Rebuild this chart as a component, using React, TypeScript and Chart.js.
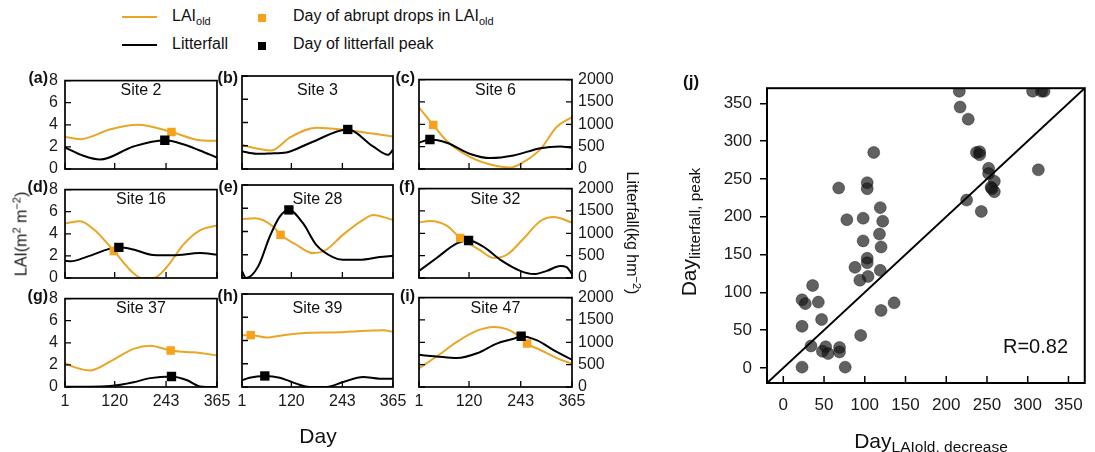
import React, { useEffect, useRef } from 'react';
import { Chart, registerables } from 'chart.js';

Chart.register(...registerables);
Chart.defaults.font.family = "'Liberation Sans', Arial, sans-serif";
Chart.defaults.color = '#1a1a1a';

type P = [number, number];

// ---------- tick labels ----------
const DAY_TICKS = [1, 120, 243, 365];
const LAI_TICKS = [0, 2, 4, 6, 8];
const LITTER_TICKS = [0, 500, 1000, 1500, 2000];
const SCATTER_TICKS = [0, 50, 100, 150, 200, 250, 300, 350];

const SITE_NAMES = ['Site 2', 'Site 3', 'Site 6', 'Site 16', 'Site 28', 'Site 32', 'Site 37', 'Site 39', 'Site 47'];
const PANEL_TAGS = ['(a)', '(b)', '(c)', '(d)', '(e)', '(f)', '(g)', '(h)', '(i)'];

// ---------- LAI_old series [day, LAI] ----------
const LAI_SITE2: P[] = [[1, 2.9], [37, 2.7], [110, 3.6], [176, 4.0], [256, 3.35], [324, 2.6], [365, 2.55]];
const LAI_SITE3: P[] = [[1, 2.1], [19, 1.9], [72, 1.6], [116, 2.7], [180, 3.55], [252, 3.35], [316, 3.05], [365, 2.8]];
const LAI_SITE6: P[] = [[1, 5.5], [35, 3.93], [67, 2.5], [123, 1.06], [186, 0.26], [218, 0.14], [250, 0.63], [290, 1.78], [329, 3.78], [365, 4.64]];
const LAI_SITE16: P[] = [[1, 4.94], [37, 5.14], [69, 4.43], [118, 2.45], [165, 0.43], [185, 0], [213, 0], [245, 1.0], [284, 3.0], [324, 4.3], [365, 4.75]];
const LAI_SITE28: P[] = [[1, 5.06], [32, 5.14], [76, 4.43], [94, 3.71], [132, 2.86], [172, 2.14], [204, 2.43], [244, 3.71], [293, 5.0], [317, 5.43], [365, 5.0]];
const LAI_SITE32: P[] = [[1, 4.97], [27, 5.1], [67, 4.68], [99, 3.58], [146, 2.5], [178, 1.8], [210, 2.08], [250, 3.53], [290, 5.1], [321, 5.46], [365, 4.97]];
const LAI_SITE37: P[] = [[1, 2.16], [29, 1.73], [61, 1.5], [109, 2.3], [165, 3.45], [205, 3.74], [254, 3.31], [292, 3.17], [324, 3.08], [365, 2.85]];
const LAI_SITE39: P[] = [[1, 4.46], [22, 4.46], [60, 4.26], [100, 4.46], [164, 4.66], [220, 4.69], [301, 4.83], [341, 4.89], [365, 4.75]];
const LAI_SITE47: P[] = [[1, 1.67], [43, 2.73], [91, 4.03], [139, 5.04], [178, 5.38], [210, 5.18], [242, 4.46], [258, 3.88], [290, 3.31], [329, 2.59], [365, 2.07]];

// ---------- Litterfall series [day, kg hm-2] ----------
const LITTER_SITE2: P[] = [[1, 490], [45, 300], [85, 213], [165, 510], [240, 650], [284, 560], [324, 418], [365, 260]];
const LITTER_SITE3: P[] = [[1, 380], [35, 327], [70, 335], [108, 356], [165, 560], [256, 850], [317, 487], [353, 305], [365, 414]];
const LITTER_SITE6: P[] = [[1, 588], [27, 660], [67, 588], [123, 337], [170, 244], [226, 301], [290, 466], [337, 502], [365, 480]];
const LITTER_SITE16: P[] = [[1, 393], [15, 378], [53, 478], [130, 693], [165, 643], [212, 521], [260, 514], [324, 565], [365, 530]];
const LITTER_SITE28: P[] = [[1, 143], [11, 0], [40, 250], [68, 893], [92, 1321], [114, 1464], [148, 1178], [180, 714], [220, 450], [244, 393], [285, 393], [333, 450], [365, 478]];
const LITTER_SITE32: P[] = [[1, 159], [43, 448], [91, 773], [119, 838], [154, 700], [194, 411], [242, 159], [274, 87], [305, 159], [337, 267], [352, 245], [365, 90]];
const LITTER_SITE37: P[] = [[1, 8], [60, 5], [109, 20], [165, 108], [205, 201], [256, 237], [292, 158], [324, 14], [365, 0]];
const LITTER_SITE39: P[] = [[1, 144], [19, 201], [56, 237], [92, 201], [132, 72], [164, 0], [205, 0], [245, 108], [293, 216], [333, 180], [365, 180]];
const LITTER_SITE47: P[] = [[1, 719], [43, 683], [91, 647], [139, 755], [186, 971], [226, 1079], [244, 1136], [282, 1043], [321, 827], [365, 611]];

const LAI_SERIES = [LAI_SITE2, LAI_SITE3, LAI_SITE6, LAI_SITE16, LAI_SITE28, LAI_SITE32, LAI_SITE37, LAI_SITE39, LAI_SITE47];
const LITTER_SERIES = [LITTER_SITE2, LITTER_SITE3, LITTER_SITE6, LITTER_SITE16, LITTER_SITE28, LITTER_SITE32, LITTER_SITE37, LITTER_SITE39, LITTER_SITE47];

// ---------- markers ----------
const LAI_DROP_DAYS: P[] = [[256, 3.35], [256, 3.4], [35, 3.93], [118, 2.45], [94, 3.71], [99, 3.58], [254, 3.31], [22, 4.46], [258, 3.9]];
const LITTER_PEAK_DAYS: P[] = [[240, 650], [256, 850], [27, 660], [130, 693], [114, 1464], [119, 838], [256, 237], [56, 237], [244, 1136]];

// ---------- panel (j) scatter ----------
const SCATTER_X = [216, 217, 227, 306, 317, 320, 313, 111, 237, 241, 241, 252, 252, 259, 255, 259, 256, 225, 243, 68, 103, 103, 78, 98, 119, 122, 118, 98, 120, 103, 103, 88, 104, 94, 119, 120, 136, 95, 23, 27, 36, 43, 47, 23, 34, 52, 48, 55, 69, 69, 23, 76];
const SCATTER_Y = [366, 345, 329, 366, 366, 366, 262, 285, 285, 286, 282, 264, 257, 247, 239, 233, 237, 222, 207, 238, 245, 237, 196, 198, 212, 194, 177, 168, 160, 145, 139, 133, 121, 116, 129, 76, 86, 43, 90, 85, 109, 87, 64, 55, 29, 28, 22, 19, 27, 21, 1, 1];
const ONE_TO_ONE = [-20, 370];
const R_TEXT = 'R=0.82';

// ---------- styling / layout ----------
const ORANGE_LINE = '#E9A626';
const ORANGE_MARK = '#F6A21B';
const COL_X = [65, 242, 419];
const COL_W = [152, 151, 153];
const ROW_Y = [76, 185, 294];
const ROW_H = 93;
const PADL = 40, PADR = 52, PADT = 12, PADB = 30;
const FONT = "'Liberation Sans', Arial, sans-serif";

const framePlugin = {
  id: 'frame',
  afterDatasetsDraw(chart: any, _args: any, opts: any) {
    const { ctx, chartArea: a, scales } = chart;
    const L = opts.tickLen ?? 6;
    ctx.save();
    ctx.strokeStyle = '#000';
    ctx.lineWidth = opts.tickWidth ?? 1.3;
    ctx.beginPath();
    if (opts.xIn) for (const t of scales.x.ticks) {
      const p = scales.x.getPixelForValue(t.value);
      ctx.moveTo(p, a.bottom); ctx.lineTo(p, a.bottom - L);
    }
    if (opts.yIn) for (const t of scales.y.ticks) {
      const p = scales.y.getPixelForValue(t.value);
      ctx.moveTo(a.left, p); ctx.lineTo(a.left + L, p);
    }
    if (opts.y1In && scales.y1) for (const t of scales.y1.ticks) {
      const p = scales.y1.getPixelForValue(t.value);
      ctx.moveTo(a.right, p); ctx.lineTo(a.right - L, p);
    }
    ctx.stroke();
    ctx.lineWidth = opts.boxWidth ?? 1.7;
    ctx.strokeRect(a.left, a.top, a.right - a.left, a.bottom - a.top);
    ctx.restore();
  },
};

const toXY = (arr: P[]) => arr.map(([x, y]) => ({ x, y }));
const plain = (v: any) => String(v);

function Panel({ idx }: { idx: number }) {
  const ref = useRef<HTMLCanvasElement>(null);
  const col = idx % 3;
  const row = Math.floor(idx / 3);
  const pl = COL_X[col], pw = COL_W[col], pt = ROW_Y[row], ph = ROW_H;
  const W = pw + PADL + PADR;
  const H = ph + PADT + PADB;
  useEffect(() => {
    const tickFont = { size: 16, family: FONT };
    const chart = new Chart(ref.current as HTMLCanvasElement, {
      type: 'line',
      data: {
        datasets: [
          {
            type: 'scatter', data: toXY([LITTER_PEAK_DAYS[idx]]), yAxisID: 'y1',
            pointStyle: 'rect', pointRadius: 6.6, backgroundColor: '#000', borderWidth: 0,
          } as any,
          {
            type: 'scatter', data: toXY([LAI_DROP_DAYS[idx]]), yAxisID: 'y',
            pointStyle: 'rect', pointRadius: 6, backgroundColor: ORANGE_MARK, borderWidth: 0,
          } as any,
          {
            data: toXY(LITTER_SERIES[idx]), yAxisID: 'y1', borderColor: '#000', borderWidth: 2,
            pointRadius: 0, cubicInterpolationMode: 'monotone', fill: false,
          } as any,
          {
            data: toXY(LAI_SERIES[idx]), yAxisID: 'y', borderColor: ORANGE_LINE, borderWidth: 2,
            pointRadius: 0, cubicInterpolationMode: 'monotone', fill: false,
          } as any,
        ],
      },
      options: {
        animation: false,
        responsive: false,
        events: [],
        layout: { padding: { top: PADT, left: 0, right: 0, bottom: 0 } },
        plugins: {
          legend: { display: false },
          tooltip: { enabled: false },
          frame: { xIn: true, yIn: true, y1In: col === 2, tickLen: 6 },
        } as any,
        scales: {
          x: {
            type: 'linear', min: 1, max: 365,
            afterBuildTicks: (s: any) => { s.ticks = DAY_TICKS.map((v) => ({ value: v })); },
            afterFit: (s: any) => { s.height = PADB; },
            grid: { display: false, drawTicks: false },
            border: { display: false },
            ticks: { display: row === 2, font: tickFont, color: '#1a1a1a', padding: 5, maxRotation: 0, autoSkip: false, callback: plain },
          },
          y: {
            type: 'linear', position: 'left', min: 0, max: 8,
            afterBuildTicks: (s: any) => { s.ticks = LAI_TICKS.map((v) => ({ value: v })); },
            afterFit: (s: any) => { s.width = PADL; },
            grid: { display: false, drawTicks: false },
            border: { display: false },
            ticks: { display: col === 0, font: tickFont, color: '#1a1a1a', padding: 7, autoSkip: false, callback: plain },
          },
          y1: {
            type: 'linear', position: 'right', min: 0, max: 2000,
            afterBuildTicks: (s: any) => { s.ticks = LITTER_TICKS.map((v) => ({ value: v })); },
            afterFit: (s: any) => { s.width = PADR; },
            grid: { display: false, drawTicks: false },
            border: { display: false },
            ticks: { display: col === 2, font: tickFont, color: '#1a1a1a', padding: 6, autoSkip: false, callback: plain },
          },
        } as any,
      },
      plugins: [framePlugin as any],
    });
    return () => chart.destroy();
  }, [idx]);
  return (
    <canvas
      ref={ref}
      width={W}
      height={H}
      style={{ position: 'absolute', left: pl - PADL, top: pt - PADT, width: W, height: H }}
    />
  );
}

const SC_LEFT = 695, SC_TOP = 70, SC_W = 400, SC_H = 360;
const SC_PADL = 72, SC_PADT = 11, SC_PADB = 47;

function ScatterPanel() {
  const ref = useRef<HTMLCanvasElement>(null);
  useEffect(() => {
    const tickFont = { size: 17, family: FONT };
    const chart = new Chart(ref.current as HTMLCanvasElement, {
      type: 'scatter',
      data: {
        datasets: [
          {
            type: 'line', data: ONE_TO_ONE.map((v) => ({ x: v, y: v })),
            borderColor: '#000', borderWidth: 2, pointRadius: 0,
          } as any,
          {
            data: SCATTER_X.map((x, i) => ({ x, y: SCATTER_Y[i] })),
            pointRadius: 6, backgroundColor: 'rgba(22,22,22,0.68)',
            borderColor: 'rgba(0,0,0,0.45)', borderWidth: 0.8, clip: 0,
          } as any,
        ],
      },
      options: {
        animation: false,
        responsive: false,
        events: [],
        layout: { padding: { top: SC_PADT, left: 0, right: 1, bottom: 0 } },
        plugins: {
          legend: { display: false },
          tooltip: { enabled: false },
          frame: { xIn: true, yIn: false, y1In: false, tickLen: 7, boxWidth: 2, tickWidth: 1.5 },
        } as any,
        scales: {
          x: {
            type: 'linear', min: -20, max: 370,
            afterBuildTicks: (s: any) => { s.ticks = SCATTER_TICKS.map((v) => ({ value: v })); },
            afterFit: (s: any) => { s.height = SC_PADB; },
            grid: { display: false, drawTicks: false },
            border: { display: false },
            ticks: { font: tickFont, color: '#1a1a1a', padding: 12, maxRotation: 0, autoSkip: false, callback: plain },
          },
          y: {
            type: 'linear', min: -20, max: 370,
            afterBuildTicks: (s: any) => { s.ticks = SCATTER_TICKS.map((v) => ({ value: v })); },
            afterFit: (s: any) => { s.width = SC_PADL; },
            grid: { display: true, drawOnChartArea: false, drawTicks: true, tickLength: 7, color: '#000', lineWidth: 1.5 },
            border: { display: false },
            ticks: { font: tickFont, color: '#1a1a1a', padding: 8, autoSkip: false, callback: plain },
          },
        } as any,
      },
      plugins: [framePlugin as any],
    });
    return () => chart.destroy();
  }, []);
  return (
    <canvas
      ref={ref}
      width={SC_W}
      height={SC_H}
      style={{ position: 'absolute', left: SC_LEFT, top: SC_TOP, width: SC_W, height: SC_H }}
    />
  );
}

const txt = (extra: React.CSSProperties): React.CSSProperties => ({
  position: 'absolute',
  fontFamily: FONT,
  fontSize: 16,
  lineHeight: '18px',
  color: '#111',
  whiteSpace: 'nowrap',
  ...extra,
});

const subStyle: React.CSSProperties = { fontSize: 11, position: 'relative', top: 4 };
const supStyle: React.CSSProperties = { fontSize: 11, position: 'relative', top: -6 };

export default function App() {
  useEffect(() => {
    document.body.style.margin = '0';
  }, []);
  return (
    <div style={{ position: 'absolute', left: 0, top: 0, width: 1095, height: 452, background: '#fff', overflow: 'hidden' }}>
      {SITE_NAMES.map((_, i) => <Panel key={i} idx={i} />)}
      <ScatterPanel />

      {/* legend */}
      <div style={{ position: 'absolute', left: 122, top: 15.5, width: 35, height: 2, background: ORANGE_LINE }} />
      <div style={txt({ left: 172, top: 6.5 })}>LAI<span style={subStyle}>old</span></div>
      <div style={{ position: 'absolute', left: 258, top: 14, width: 8, height: 8, background: ORANGE_MARK }} />
      <div style={txt({ left: 293, top: 6.5 })}>Day of abrupt drops in LAI<span style={subStyle}>old</span></div>
      <div style={{ position: 'absolute', left: 122, top: 44, width: 35, height: 2, background: '#000' }} />
      <div style={txt({ left: 172, top: 35 })}>Litterfall</div>
      <div style={{ position: 'absolute', left: 258, top: 42, width: 8, height: 8, background: '#000' }} />
      <div style={txt({ left: 293, top: 35 })}>Day of litterfall peak</div>

      {/* panel tags and site titles */}
      {SITE_NAMES.map((name, i) => {
        const col = i % 3, row = Math.floor(i / 3);
        const pl = COL_X[col], pw = COL_W[col], pt = ROW_Y[row];
        const tagRight = col === 0 ? 1095 - 48 : 1095 - (pl - 4);
        return (
          <React.Fragment key={i}>
            <div style={txt({ right: tagRight, top: pt - 7, fontWeight: 'bold' })}>{PANEL_TAGS[i]}</div>
            <div style={txt({ left: pl, width: pw, top: pt + 5, textAlign: 'center' })}>{name}</div>
          </React.Fragment>
        );
      })}

      {/* axis titles of panels a-i */}
      <div style={txt({ left: 22, top: 234, transform: 'translate(-50%, -50%) rotate(-90deg)' })}>
        LAI(m<span style={supStyle}>2</span> m<span style={supStyle}>−2</span>)
      </div>
      <div style={txt({ left: 631, top: 233, transform: 'translate(-50%, -50%) rotate(90deg)' })}>
        Litterfall(kg hm<span style={supStyle}>−2</span>)
      </div>
      <div style={txt({ left: 318, top: 424, fontSize: 21, lineHeight: '24px', transform: 'translateX(-50%)' })}>Day</div>

      {/* panel j texts */}
      <div style={txt({ left: 683, top: 72, fontSize: 17, fontWeight: 'bold', lineHeight: '20px' })}>(j)</div>
      <div style={txt({ left: 1003, top: 333.5, fontSize: 20, lineHeight: '24px' })}>{R_TEXT}</div>
      <div style={txt({ left: 931, top: 429, fontSize: 21, lineHeight: '24px', transform: 'translateX(-50%)' })}>
        Day<span style={{ fontSize: 15.5, position: 'relative', top: 4 }}>LAIold, decrease</span>
      </div>
      <div style={txt({ left: 690, top: 232, fontSize: 21, lineHeight: '24px', transform: 'translate(-50%, -50%) rotate(-90deg)' })}>
        Day<span style={{ fontSize: 15.5, position: 'relative', top: 4 }}>litterfall, peak</span>
      </div>
    </div>
  );
}
